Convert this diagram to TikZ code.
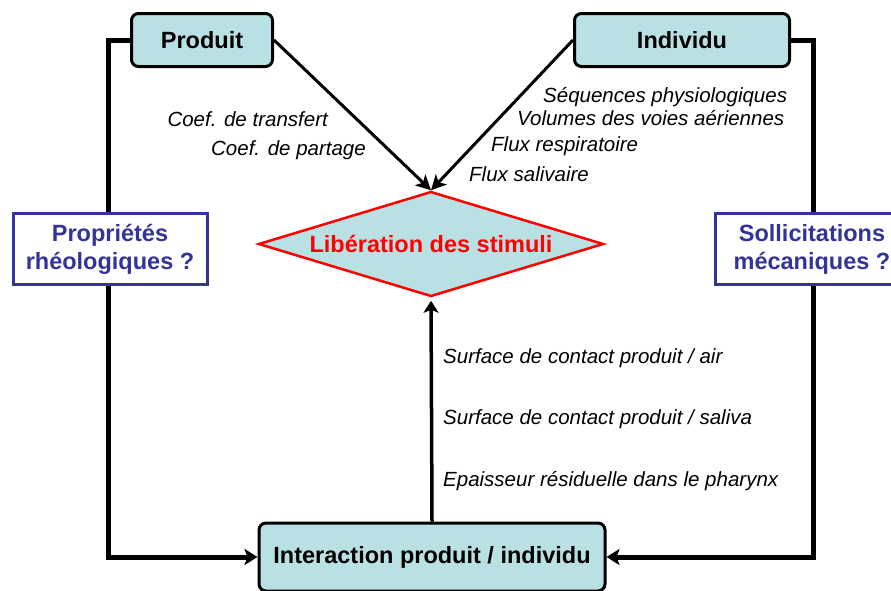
\documentclass[tikz,border=0pt]{standalone}
\usepackage{fontspec}
\setmainfont{Liberation Sans}
\usetikzlibrary{arrows.meta, shapes.geometric}
\definecolor{cyanbox}{HTML}{B9E0E3}
\definecolor{bleu}{HTML}{333399}
\tikzset{
    x=1pt, y=-1pt,
    box/.style={draw, line width=3pt, rounded corners=7pt, fill=cyanbox, inner sep=0pt,
        font=\fontsize{23.5}{28}\selectfont\bfseries},
    question/.style={draw=bleu, line width=3pt, fill=white, text=bleu, align=center,
        minimum width=194pt, minimum height=71pt, inner sep=0pt,
        font=\fontsize{23.5}{28}\selectfont\bfseries},
    label/.style={inner sep=0pt, font=\fontsize{20.5}{24}\selectfont\itshape},
    frame/.style={line width=5pt, -{Stealth[length=13pt, width=16pt, inset=3pt]}},
    flux/.style={line width=3pt, -{Stealth[length=15pt, width=15pt, inset=4pt]}},
}
\begin{document}
\begin{tikzpicture}
    \useasboundingbox (0,0) rectangle (891,590);
    % Nodi
    \node[box, minimum width=141pt, minimum height=53pt] (prod) at (202,40) {Produit};
    \node[box, minimum width=215pt, minimum height=53pt] (ind) at (682,40) {Individu};
    \node[diamond, draw=red, line width=2.5pt, fill=cyanbox, aspect=3.3, inner sep=0pt,
        minimum width=345pt, minimum height=105pt, text=red,
        font=\fontsize{23.5}{28}\selectfont\bfseries] (lib) at (431,244) {Libération des stimuli};
    \node[box, minimum width=346pt, minimum height=68pt] (inter) at (432,557) {Interaction produit / individu};

    % Frecce
    \draw[frame] (prod.west) -- ++(-22,0) |- (inter.west);
    \draw[frame] (ind.east) -- ++(22,0) |- (inter.east);
    \draw[flux] (prod.east) -- (lib.north);
    \draw[flux] (ind.west) -- (lib.north);
    \draw[line width=3.5pt, shorten >=3pt, -{Stealth[length=12pt, width=15pt, inset=3pt]}] (inter.north) -- (lib.south);

    \node[question] (rheo) at (110,249) {Propriétés\\rhéologiques ?};
    \node[question] (meca) at (812,249) {Sollicitations\\mécaniques ?};

    % Etichette
    \node[label, anchor=east] (transf) at (328,119) {Coef. de transfert};
    \node[label, anchor=east] (part) at (366,150) {Coef. de partage};
    \node[label, anchor=west] (seq) at (543,97) {Séquences physiologiques};
    \node[label, anchor=west] (vol) at (517,118) {Volumes des voies aériennes};
    \node[label, anchor=west] (resp) at (491,146) {Flux respiratoire};
    \node[label, anchor=west] (sal) at (469,174) {Flux salivaire};
    \node[label, anchor=west] (air) at (443,358) {Surface de contact produit / air};
    \node[label, anchor=west] (saliva) at (443,419) {Surface de contact produit / saliva};
    \node[label, anchor=west] (phar) at (443,481) {Epaisseur résiduelle dans le pharynx};
\end{tikzpicture}
\end{document}
